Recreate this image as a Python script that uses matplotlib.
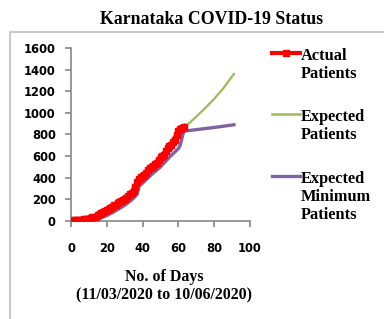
import matplotlib.pyplot as plt
from matplotlib.lines import Line2D
from matplotlib.patches import Rectangle

# actual patients, day 0 = 11/03/2020
actual_days = list(range(0, 64))
actual_cases = [4, 6, 6, 6, 7, 10, 11, 14, 15, 15,
                20, 26, 33, 37, 41, 55, 62, 76, 81, 88,
                98, 110, 124, 128, 144, 151, 163, 175, 181, 197,
                207, 215, 232, 247, 258, 279, 315, 359, 384, 408,
                418, 427, 445, 474, 489, 500, 512, 523, 535, 565,
                589, 601, 614, 651, 673, 692, 705, 731, 753, 794,
                829, 848, 862, 870]

# expected patients (projection)
exp_days = [63, 66, 70, 75, 80, 85, 91]
exp_cases = [862, 905, 965, 1045, 1130, 1225, 1360]

# expected minimum patients
min_days = [0, 5, 10, 15, 20, 25, 30, 35, 37, 38, 40, 45, 50, 55, 60, 61, 63, 70, 80, 91]
min_cases = [0, 0, 3, 18, 50, 95, 145, 210, 250, 320, 350, 430, 500, 590, 670, 700, 830, 845, 865, 890]

red = '#ff0000'
green = '#9bbb59'
purple = '#8064a2'
axis_grey = '#868686'

serif = 'Liberation Serif'
sans = 'DejaVu Sans'

fig = plt.figure(figsize=(3.84, 3.19), dpi=100)
ax = fig.add_axes([71/384, 1-221/319, 179/384, 173/319])

ax.plot(min_days, min_cases, color=purple, lw=2.4, zorder=2)
ax.plot(exp_days, exp_cases, color=green, lw=1.6, zorder=2)
ax.plot(actual_days, actual_cases, color=red, lw=4, marker='s', ms=4.5, zorder=3)

ax.set_xlim(0, 100)
ax.set_ylim(0, 1600)
ax.set_xticks(range(0, 101, 20))
ax.set_yticks(range(0, 1601, 200))
for s in ['top', 'right']:
    ax.spines[s].set_visible(False)
for s in ['left', 'bottom']:
    ax.spines[s].set_color(axis_grey)
    ax.spines[s].set_linewidth(1.2)
ax.tick_params(colors=axis_grey, length=4, width=1.2)
ax.tick_params(axis='y', pad=7)
ax.tick_params(axis='x', pad=11)
for lab in ax.get_xticklabels() + ax.get_yticklabels():
    lab.set_color('black')
    lab.set_fontfamily(sans)
    lab.set_fontweight('bold')
    lab.set_fontsize(8.3)

# frame of the chart area
fig.add_artist(Rectangle((10/384, -0.1), 1.2, 1-32/319+0.1, transform=fig.transFigure,
                         fill=False, edgecolor='#bfbfbf', lw=1.2))

fig.text(211/384, 1-19/319, 'Karnataka COVID-19 Status', ha='center', va='center',
         family=serif, fontweight='bold', fontsize=12.8)
fig.text(164/384, 1-286/319, 'No. of Days\n(11/03/2020 to 10/06/2020)', ha='center',
         va='center', family=serif, fontweight='bold', fontsize=11.4, linespacing=1.15)

# legend drawn by hand: handle level with the first line of each label
entries = [(red, 's', 3, 'Actual\nPatients', 53),
           (green, None, 1.8, 'Expected\nPatients', 114),
           (purple, None, 2.4, 'Expected\nMinimum\nPatients', 176)]
for color, mk, lw, label, ypx in entries:
    y = 1 - ypx/319
    fig.add_artist(Line2D([272/384, 300/384], [y, y], color=color, lw=lw,
                          transform=fig.transFigure))
    if mk:
        fig.add_artist(Line2D([286/384], [y], color=color, marker=mk, ms=5,
                              transform=fig.transFigure))
    fig.text(301/384, y + 5/319, label, ha='left', va='top', family=serif,
             fontweight='bold', fontsize=11.8, linespacing=1.15)

fig.savefig('out.png', dpi=100)
